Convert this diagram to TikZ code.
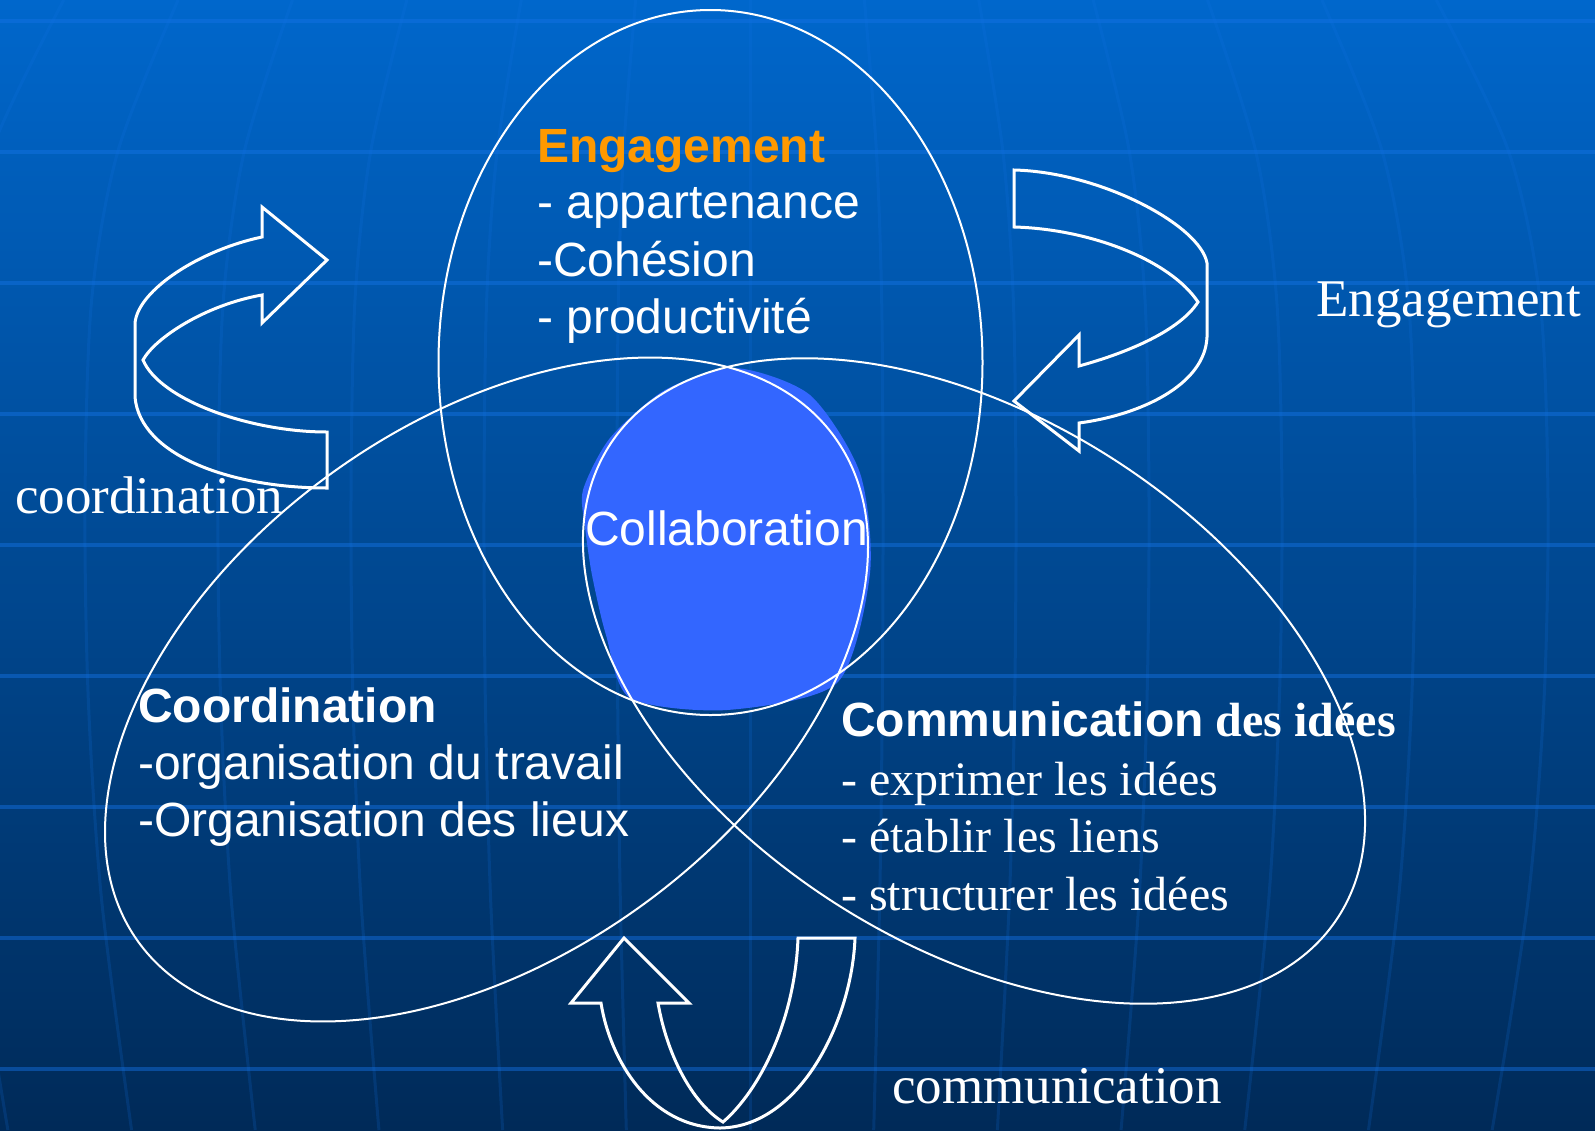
\documentclass[tikz,border=0pt]{standalone}
\usepackage{fontspec}
\setmainfont{Liberation Serif}
\setsansfont{Liberation Sans}
\usepackage{tikz}
\definecolor{bgtop}{RGB}{0,103,204}
\definecolor{bgbot}{RGB}{0,42,88}
\definecolor{gridblue}{RGB}{20,115,230}
\definecolor{collabblue}{RGB}{51,102,255}
\definecolor{engorange}{RGB}{255,153,0}

\begin{document}
\begin{tikzpicture}[x=1pt, y=-1pt,
  ring/.style={draw=white, line width=2pt},
  turn/.style={draw=white, line width=3pt, line join=miter},
  sanstxt/.style={anchor=base west, inner sep=0pt, text=white, font=\sffamily\fontsize{48}{58}\selectfont},
  sanshead/.style={sanstxt, font=\sffamily\bfseries\fontsize{48}{58}\selectfont},
  sertxt/.style={anchor=base west, inner sep=0pt, text=white, font=\rmfamily\fontsize{48}{58}\selectfont},
  bigtxt/.style={anchor=base west, inner sep=0pt, text=white, font=\rmfamily\fontsize{53}{64}\selectfont}]
\useasboundingbox (0,0) rectangle (1595,1130);

% Background and grid
\shade[top color=bgtop, bottom color=bgbot] (0,0) rectangle (1595,1130);
\foreach \y in {21,152,...,1069}
  \draw[gridblue, opacity=0.45, line width=4pt] (0,\y) -- (1595,\y);
\foreach \k in {-6,...,6}
  \draw[gridblue, opacity=0.18, line width=3pt] plot[smooth] coordinates
    {({750+\k*133*0.86},0) ({750+\k*133*0.95},150) ({750+\k*133*0.99},300)
     ({750+\k*133},500) ({750+\k*133*0.995},700) ({750+\k*133*0.975},900)
     ({750+\k*133*0.93},1130)};

% Collaboration area
\fill[collabblue] plot[smooth cycle, tension=0.45] coordinates
  {(735,368) (810,395) (860,473) (870,573) (837,683) (727,710) (630,698)
   (606,635) (592,575) (585,527) (583,490) (610,438) (665,390)};

% Three ellipses
\draw[ring] (710.5,362.5) ellipse [x radius=272, y radius=352.5];
\draw[ring, rotate around={36:(486.5,689.5)}] (486.5,689.5) ellipse [x radius=430, y radius=266];
\draw[ring, rotate around={-33:(974,681)}] (974,681) ellipse [x radius=434, y radius=262];

% Curved arrows
\draw[turn] (262,237) -- (262,207) -- (327,260) -- (262,323) -- (262,295)
  .. controls (205,305) and (155,338) .. (143,360)
  .. controls (160,400) and (250,432) .. (327,432) -- (327,488)
  .. controls (230,488) and (140,455) .. (135,397) -- (135,323)
  .. controls (138,290) and (200,250) .. cycle;
\draw[turn] (1014,170) -- (1014,227)
  .. controls (1090,229) and (1170,260) .. (1198,302)
  .. controls (1180,330) and (1130,352) .. (1079,366) -- (1079,335)
  -- (1014,401) -- (1079,451) -- (1079,423)
  .. controls (1140,415) and (1205,385) .. (1207,337) -- (1207,263)
  .. controls (1200,225) and (1100,172) .. cycle;
\draw[turn] (624,938) -- (689,1003) -- (658,1003)
  .. controls (668,1060) and (695,1105) .. (723,1122)
  .. controls (760,1090) and (795,1020) .. (798,938) -- (855,938)
  .. controls (852,1020) and (800,1127) .. (720,1128)
  .. controls (650,1127) and (610,1060) .. (601,1003) -- (571,1003) -- cycle;

% Texts
\node[sanshead, text=engorange] (engtitle) at (537,162) {Engagement};
\node[sanstxt] (eng1) at (537,218.5) {- appartenance};
\node[sanstxt] (eng2) at (537,276.5) {-Cohésion};
\node[sanstxt] (eng3) at (537,333) {- productivité};

\node[sanstxt] (collab) at (585,545) {Collaboration};

\node[sanshead] (coortitle) at (138,722.5) {Coordination};
\node[sanstxt] (coor1) at (138,779.5) {-organisation du travail};
\node[sanstxt] (coor2) at (138,836) {-Organisation des lieux};

\node[sanshead] (comtitle) at (841,736.5) {Communication{\rmfamily\bfseries\ des idées}};
\node[sertxt] (com1) at (841,795) {- exprimer les idées};
\node[sertxt] (com2) at (841,852) {- établir les liens};
\node[sertxt] (com3) at (841,910) {- structurer les idées};

\node[bigtxt] (englbl) at (1316,316) {Engagement};
\node[bigtxt] (coorlbl) at (15,513) {coordination};
\node[bigtxt] (comlbl) at (892,1103) {communication};
\end{tikzpicture}
\end{document}
